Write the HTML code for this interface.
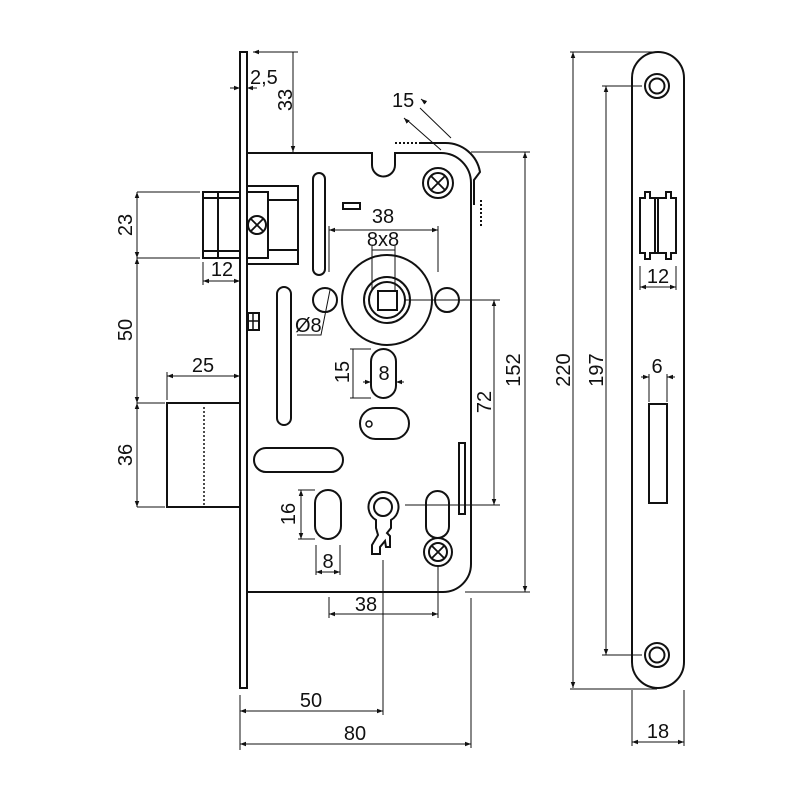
<!DOCTYPE html>
<html><head><meta charset="utf-8"><style>
html,body{margin:0;padding:0;background:#fff;}
svg{display:block}
text{font-family:"Liberation Sans",Arial,sans-serif;font-size:20px;fill:#111}
</style></head><body>
<svg width="800" height="800" viewBox="0 0 800 800" xmlns="http://www.w3.org/2000/svg">
<defs>
<marker id="a" viewBox="0 0 8 6" refX="8" refY="3" markerWidth="6" markerHeight="5" orient="auto-start-reverse"><path d="M0,0 L8,3 L0,6z" fill="#111"/></marker>
</defs>
<g fill="none" stroke="#111" stroke-width="2">
<rect x="240" y="52" width="7" height="636"/>
<path d="M247,153 H372 V165 A11.5,11.5 0 0 0 395,165 V153 H441 A30,30 0 0 1 471,183 V564 A28,28 0 0 1 443,592 H247"/>
<path d="M420,143 H445 A35,35 0 0 1 480,172 L474,180 V205"/>
<circle cx="438" cy="183" r="15"/><circle cx="438" cy="183" r="10"/>
<rect x="203" y="192" width="37" height="66"/>
<path d="M203,198 H240 M203,251 H240 M218,192 V258"/>
<rect x="247" y="186" width="51" height="78"/>
<path d="M247,192 H268 V258 H247 M268,200 H298 M268,250 H298"/>
<circle cx="257" cy="225" r="9"/>
<rect x="313" y="173" width="12" height="102" rx="6"/>
<rect x="343" y="203" width="17" height="6"/>
<rect x="277" y="287" width="14" height="138" rx="7"/>
<rect x="248" y="313" width="11" height="17"/>
<path d="M248,321 H259 M253,313 V330" stroke-width="1.5"/>
<circle cx="387" cy="300" r="45"/>
<circle cx="387" cy="300" r="23"/><circle cx="387" cy="300" r="18"/>
<rect x="378" y="291" width="19" height="19"/>
<circle cx="325" cy="300" r="12"/><circle cx="447" cy="300" r="12"/>
<rect x="371" y="349" width="25" height="49" rx="12.5"/>
<rect x="360" y="408" width="49" height="31" rx="15.5"/>
<circle cx="369" cy="424" r="3" stroke-width="1.5"/>
<rect x="254" y="448" width="89" height="24" rx="12"/>
<rect x="315" y="490" width="26" height="49" rx="13"/>
<path d="M376,520 A15,15 0 1 1 391,520 L391,528 L387,533 L390,536 L390,547 L386,547 L385,541 L380,547 L380,554 L372,554 L372,545 L378,535 L376,528 Z"/>
<circle cx="383" cy="507" r="9"/>
<rect x="426" y="491" width="23" height="47" rx="11.5"/>
<circle cx="438" cy="552" r="14"/><circle cx="438" cy="552" r="9"/>
<rect x="459" y="443" width="6" height="71"/>
<rect x="167" y="403" width="73" height="104"/>
<path d="M632,78 A26,26 0 0 1 684,78 V662 A26,26 0 0 1 632,662 Z"/>
<circle cx="657" cy="86" r="12"/><circle cx="657" cy="86" r="7.5"/>
<circle cx="657" cy="655" r="12"/><circle cx="657" cy="655" r="7.5"/>
<path d="M640,198 H645 V192 H650 V198 H666 V192 H671 V198 H676 V253 H671 V259 H666 V253 H650 V259 H645 V253 H640 Z"/>
<path d="M655,198 V253 M658,198 V253"/>
<rect x="649" y="404" width="18" height="99"/>
</g>
<g stroke="#111" stroke-width="1.8">
<path d="M431,190 L445,176 M431,176 L445,190"/>
<path d="M251,231 L263,219 M251,219 L263,231"/>
<path d="M432,558 L444,546 M432,546 L444,558"/>
</g>
<g stroke="#111" stroke-width="2" stroke-dasharray="2,2" fill="none">
<path d="M395,143 H420"/><path d="M481,200 V228"/><path d="M204,407 V505" stroke-width="1.5"/>
</g>
<g stroke="#111" stroke-width="1" fill="none">
<path d="M253,52 H298 M293,52 V152" marker-start="url(#a)" marker-end="url(#a)"/>
<path d="M230,88 H240" marker-end="url(#a)"/><path d="M257,88 H247" marker-end="url(#a)"/>
<path d="M420,108 L451,138 M407,120 L441,150"/>
<path d="M426,103 L421,99" marker-end="url(#a)"/><path d="M404,118 L408,122" marker-start="url(#a)"/>
<path d="M137,192 H200 M137,258 H200 M137,403 H165 M137,507 H165"/>
<path d="M137,192 V258" marker-start="url(#a)" marker-end="url(#a)"/>
<path d="M137,258 V403" marker-start="url(#a)" marker-end="url(#a)"/>
<path d="M137,403 V507" marker-start="url(#a)" marker-end="url(#a)"/>
<path d="M203,262 V285"/>
<path d="M203,281 H240" marker-start="url(#a)" marker-end="url(#a)"/>
<path d="M167,372 V400"/>
<path d="M167,376 H240" marker-start="url(#a)" marker-end="url(#a)"/>
<path d="M329,226 V272 M438,226 V272 M372,246 V290 M395,246 V290"/>
<path d="M329,230 H438" marker-start="url(#a)" marker-end="url(#a)"/>
<path d="M372,250 H395"/>
<path d="M330,290 L321,335 H297"/>
<path d="M350,349 H371 M350,398 H371 M353,349 V398" />
<path d="M363,382 H371" marker-end="url(#a)"/><path d="M404,382 H396" marker-end="url(#a)"/>
<path d="M405,300 H500 M405,505 H500"/>
<path d="M494,300 V505" marker-start="url(#a)" marker-end="url(#a)"/>
<path d="M471,152 H530 M465,592 H530"/>
<path d="M525,152 V592" marker-start="url(#a)" marker-end="url(#a)"/>
<path d="M298,490 H315 M298,539 H315"/>
<path d="M301,490 V539" marker-start="url(#a)" marker-end="url(#a)"/>
<path d="M316,545 V575 M340,545 V575"/>
<path d="M316,572 H340" marker-start="url(#a)" marker-end="url(#a)"/>
<path d="M329,597 V618 M438,565 V618"/>
<path d="M329,614 H438" marker-start="url(#a)" marker-end="url(#a)"/>
<path d="M383,560 V715 M471,598 V748 M240,695 V750"/>
<path d="M240,711 H383" marker-start="url(#a)" marker-end="url(#a)"/>
<path d="M240,744 H471" marker-start="url(#a)" marker-end="url(#a)"/>
<path d="M570,52 H657 M570,689 H657 M602,86 H642 M602,655 H642"/>
<path d="M573,52 V688" marker-start="url(#a)" marker-end="url(#a)"/>
<path d="M606,86 V655" marker-start="url(#a)" marker-end="url(#a)"/>
<path d="M640,266 V290 M676,266 V290"/>
<path d="M640,287 H676" marker-start="url(#a)" marker-end="url(#a)"/>
<path d="M649,374 V402 M667,374 V402"/>
<path d="M641,377 H649" marker-end="url(#a)"/><path d="M675,377 H667" marker-end="url(#a)"/>
<path d="M632,690 V746 M684,690 V746"/>
<path d="M632,742 H684" marker-start="url(#a)" marker-end="url(#a)"/>
</g>
<text x="250" y="84">2,5</text>
<text transform="translate(292,100) rotate(-90)" text-anchor="middle">33</text>
<text x="392" y="107">15</text>
<text transform="translate(132,225) rotate(-90)" text-anchor="middle">23</text>
<text x="222" y="276" text-anchor="middle">12</text>
<text transform="translate(132,330) rotate(-90)" text-anchor="middle">50</text>
<text x="203" y="372" text-anchor="middle">25</text>
<text transform="translate(132,455) rotate(-90)" text-anchor="middle">36</text>
<text x="383" y="223" text-anchor="middle">38</text>
<text x="383" y="246" text-anchor="middle">8x8</text>
<text x="295" y="332">Ø8</text>
<text transform="translate(349,372) rotate(-90)" text-anchor="middle">15</text>
<text x="384" y="380" text-anchor="middle">8</text>
<text transform="translate(491,402) rotate(-90)" text-anchor="middle">72</text>
<text transform="translate(520,370) rotate(-90)" text-anchor="middle">152</text>
<text transform="translate(295,514) rotate(-90)" text-anchor="middle">16</text>
<text x="328" y="568" text-anchor="middle">8</text>
<text x="366" y="611" text-anchor="middle">38</text>
<text x="311" y="707" text-anchor="middle">50</text>
<text x="355" y="740" text-anchor="middle">80</text>
<text transform="translate(570,370) rotate(-90)" text-anchor="middle">220</text>
<text transform="translate(603,370) rotate(-90)" text-anchor="middle">197</text>
<text x="658" y="283" text-anchor="middle">12</text>
<text x="657" y="373" text-anchor="middle">6</text>
<text x="658" y="738" text-anchor="middle">18</text>
</svg>
</body></html>
